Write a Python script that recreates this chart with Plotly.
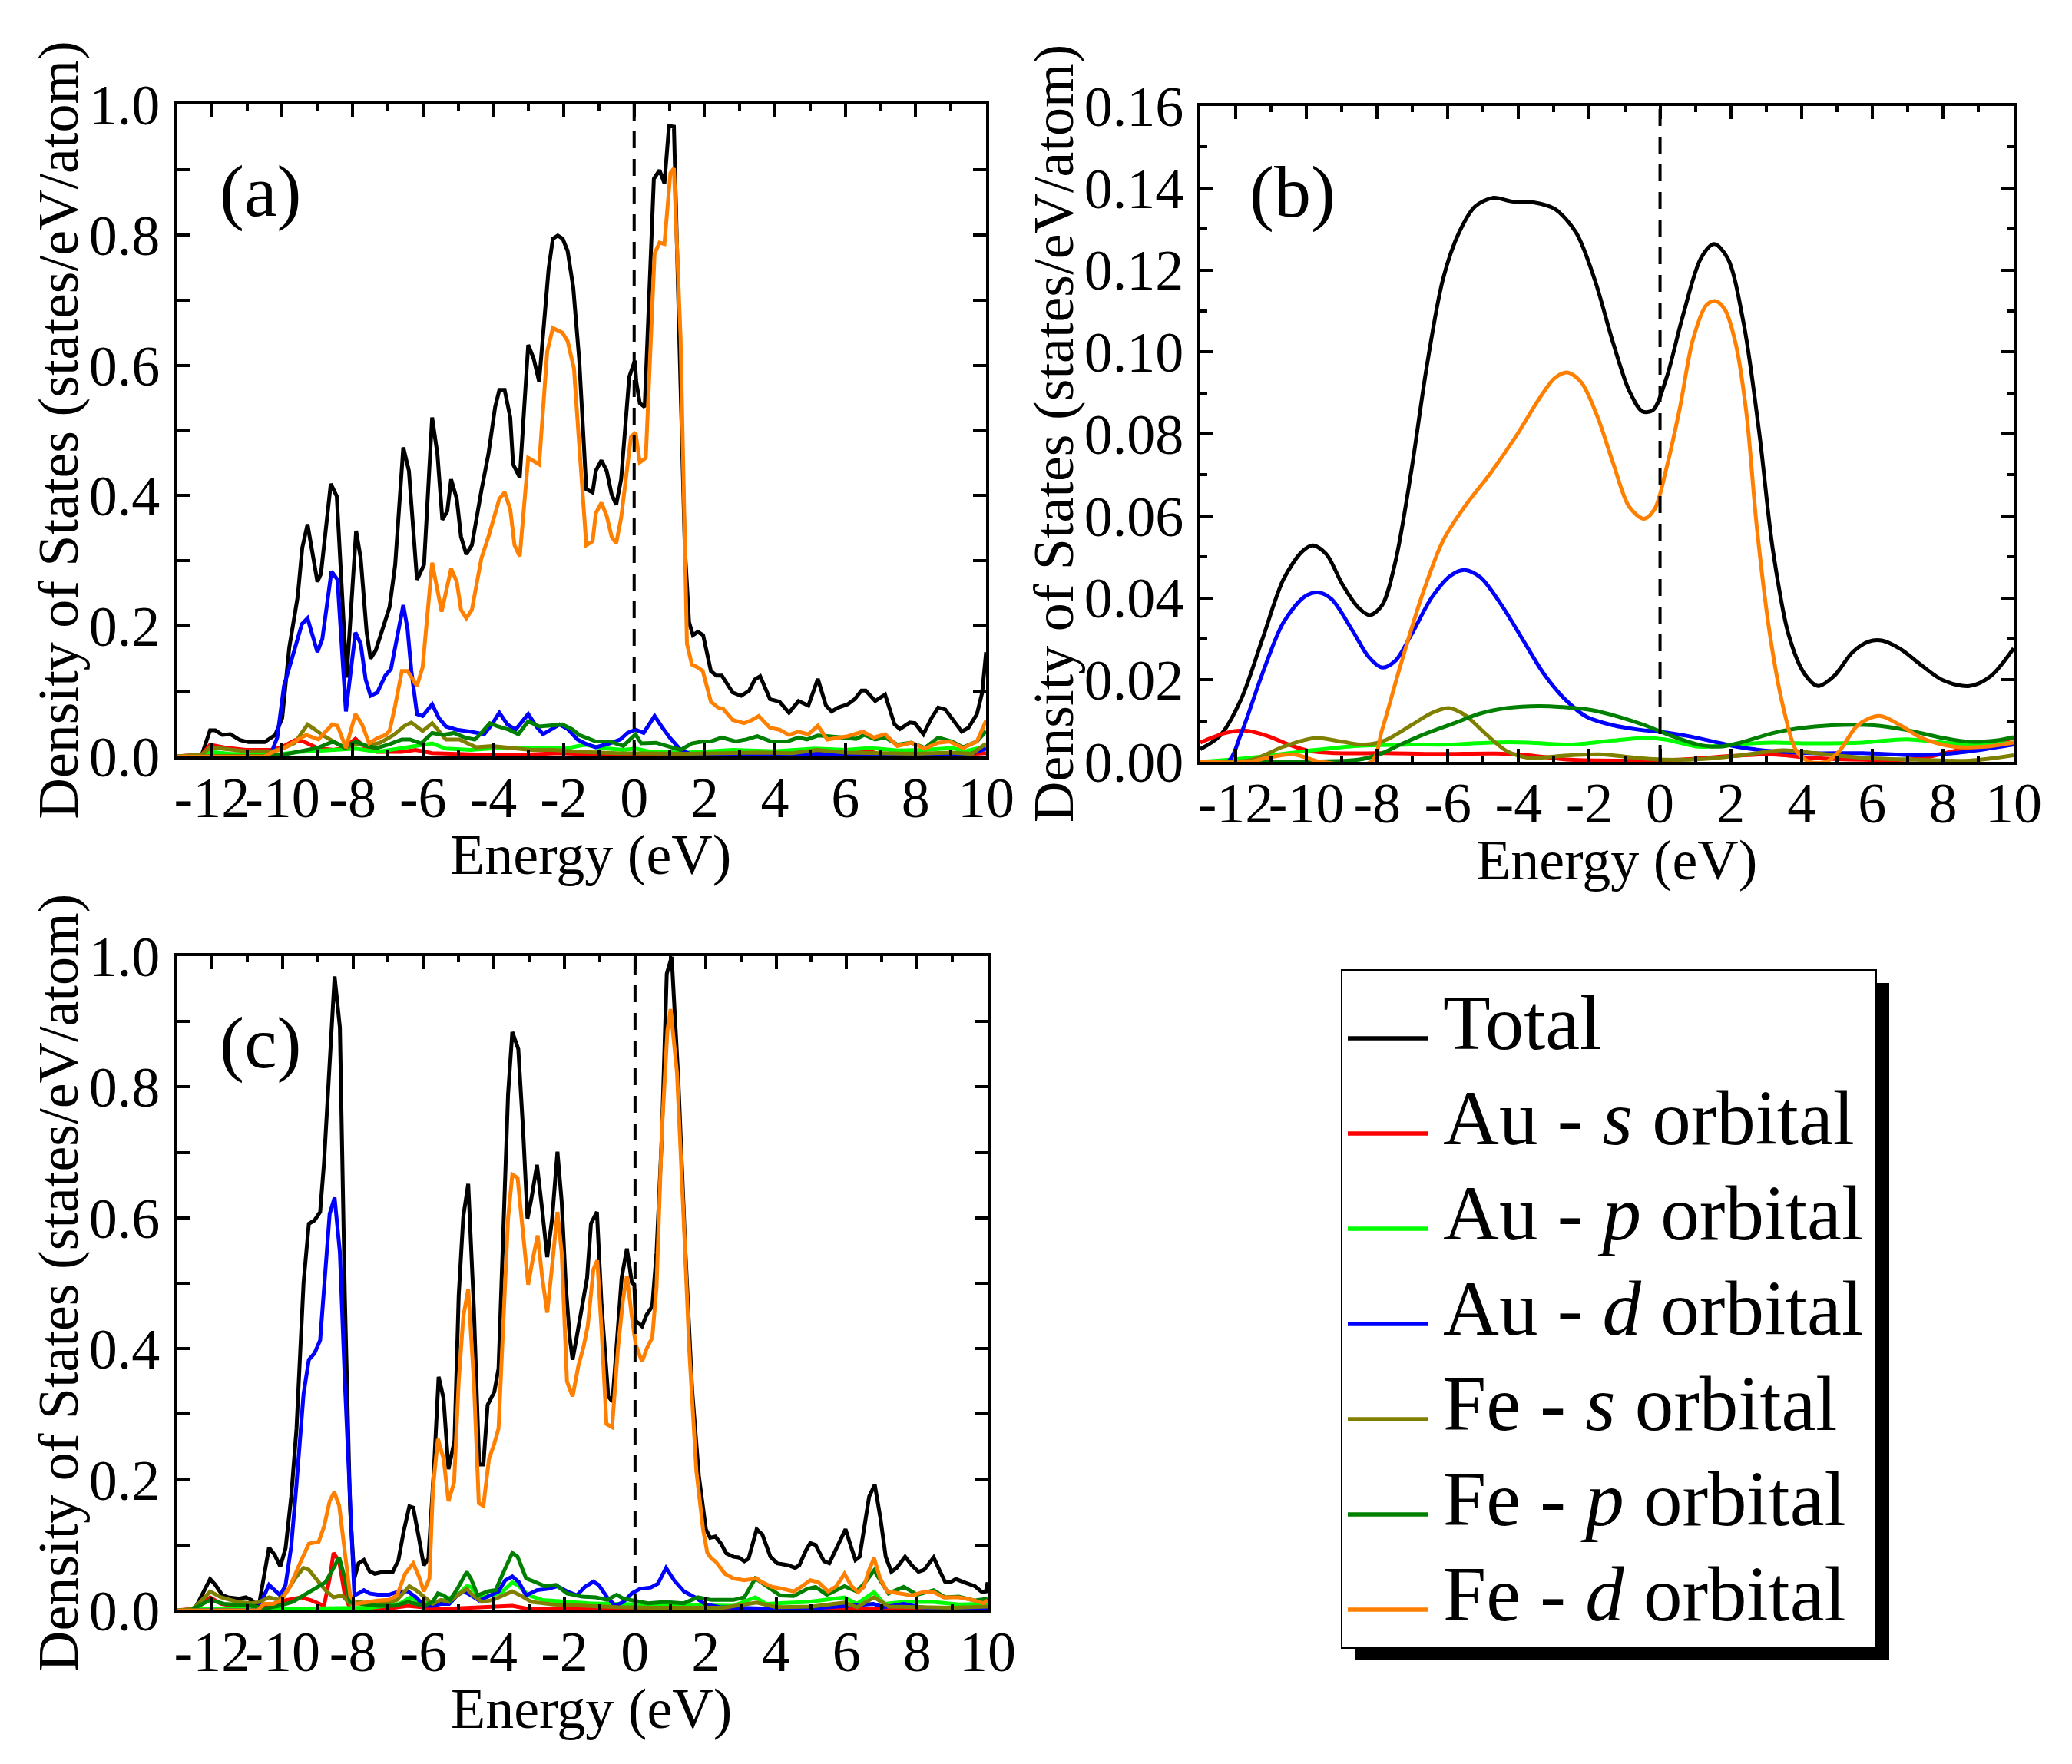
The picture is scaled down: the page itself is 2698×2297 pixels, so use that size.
import plotly.graph_objects as go

# ── data: (energy eV, DOS states/eV/atom) ──────────────────────────────────

# (a)
A_TOTAL = [(-13.0, 0), (-12.3, 0), (-12.05, 0.04), (-11.9, 0.04), (-11.7, 0.033), (-11.47, 0.034),
           (-11.2, 0.025), (-10.96, 0.022), (-10.5, 0.022), (-10.38, 0.026), (-10.2, 0.033), (-10.0, 0.059),
           (-9.8, 0.167), (-9.56, 0.245), (-9.43, 0.32), (-9.28, 0.356), (-9.0, 0.268), (-8.9, 0.28),
           (-8.62, 0.418), (-8.45, 0.399), (-8.17, 0.121), (-7.9, 0.346), (-7.77, 0.304), (-7.6, 0.19),
           (-7.49, 0.15), (-7.34, 0.163), (-7.14, 0.196), (-6.95, 0.229), (-6.79, 0.294), (-6.56, 0.474),
           (-6.4, 0.438), (-6.17, 0.271), (-5.97, 0.294), (-5.74, 0.52), (-5.59, 0.464), (-5.45, 0.363),
           (-5.31, 0.376), (-5.2, 0.425), (-5.04, 0.395), (-4.92, 0.337), (-4.77, 0.31), (-4.61, 0.324),
           (-4.34, 0.408), (-4.14, 0.464), (-3.95, 0.536), (-3.83, 0.562), (-3.68, 0.562), (-3.52, 0.52),
           (-3.44, 0.448), (-3.25, 0.428), (-3.01, 0.631), (-2.86, 0.611), (-2.7, 0.575), (-2.59, 0.641),
           (-2.43, 0.748), (-2.31, 0.794), (-2.17, 0.799), (-2.03, 0.794), (-1.89, 0.775), (-1.73, 0.719),
           (-1.56, 0.608), (-1.36, 0.41), (-1.18, 0.405), (-1.09, 0.438), (-0.93, 0.454), (-0.78, 0.438),
           (-0.64, 0.402), (-0.51, 0.386), (-0.37, 0.425), (-0.14, 0.582), (0.02, 0.607), (0.06, 0.575),
           (0.16, 0.542), (0.3, 0.536), (0.56, 0.886), (0.72, 0.899), (0.86, 0.879), (0.99, 0.967),
           (1.13, 0.966), (1.29, 0.627), (1.44, 0.32), (1.56, 0.206), (1.67, 0.186), (1.81, 0.191),
           (1.96, 0.186), (2.18, 0.131), (2.34, 0.124), (2.49, 0.124), (2.65, 0.111), (2.8, 0.098),
           (3.04, 0.093), (3.27, 0.101), (3.43, 0.118), (3.58, 0.123), (3.86, 0.088), (4.13, 0.084),
           (4.4, 0.067), (4.67, 0.085), (4.95, 0.078), (5.22, 0.119), (5.45, 0.078), (5.61, 0.069),
           (5.8, 0.075), (6.07, 0.08), (6.27, 0.088), (6.46, 0.101), (6.58, 0.101), (6.85, 0.085),
           (7.13, 0.095), (7.4, 0.049), (7.55, 0.042), (7.83, 0.052), (7.98, 0.051), (8.22, 0.034),
           (8.45, 0.059), (8.64, 0.075), (8.84, 0.072), (9.03, 0.058), (9.31, 0.038), (9.5, 0.044),
           (9.74, 0.065), (9.89, 0.098), (10.0, 0.16)]
A_AU_S = [(-13.0, 0), (-12.28, 0.003), (-12.05, 0.018), (-11.66, 0.014), (-11.04, 0.01), (-10.26, 0.01),
          (-9.95, 0.016), (-9.64, 0.025), (-9.4, 0.023), (-9.0, 0.013), (-8.55, 0.01), (-8.23, 0.013),
          (-7.92, 0.027), (-7.69, 0.016), (-7.3, 0.007), (-6.6, 0.007), (-6.21, 0.01), (-5.74, 0.005),
          (-4.5, 0.003), (-3.0, 0.003), (-2.16, 0.005), (-1.0, 0.003), (1.0, 0.002), (3.0, 0.003),
          (5.0, 0.003), (6.58, 0.01), (7.0, 0.003), (9.0, 0.002), (10.0, 0.005)]
A_AU_P = [(-13.0, 0), (-12.28, 0.001), (-12.05, 0.007), (-11.5, 0.004), (-10.3, 0.002), (-9.48, 0.007),
          (-8.55, 0.01), (-7.92, 0.012), (-7.3, 0.007), (-6.52, 0.013), (-5.74, 0.02), (-5.35, 0.012),
          (-4.65, 0.01), (-3.87, 0.013), (-3.01, 0.013), (-2.31, 0.012), (-1.87, 0.013), (-1.4, 0.018),
          (-0.93, 0.013), (-0.31, 0.01), (0.04, 0.012), (0.47, 0.007), (1.5, 0.006), (2.8, 0.01),
          (4.0, 0.008), (5.14, 0.012), (6.0, 0.01), (6.7, 0.013), (7.5, 0.009), (8.26, 0.01),
          (9.03, 0.013), (9.42, 0.008), (10.0, 0.016)]
A_AU_D = [(-13.0, 0), (-10.45, 0), (-10.3, 0.007), (-10.14, 0.029), (-9.95, 0.108), (-9.79, 0.137),
          (-9.6, 0.176), (-9.44, 0.203), (-9.28, 0.212), (-9.0, 0.16), (-8.86, 0.18), (-8.6, 0.284),
          (-8.43, 0.271), (-8.19, 0.069), (-7.92, 0.19), (-7.77, 0.173), (-7.63, 0.118), (-7.49, 0.093),
          (-7.3, 0.098), (-7.07, 0.124), (-6.91, 0.134), (-6.71, 0.19), (-6.56, 0.232), (-6.44, 0.196),
          (-6.33, 0.131), (-6.17, 0.065), (-6.01, 0.062), (-5.74, 0.08), (-5.55, 0.059), (-5.35, 0.046),
          (-5.04, 0.041), (-4.65, 0.038), (-4.26, 0.034), (-4.07, 0.047), (-3.83, 0.067), (-3.6, 0.049),
          (-3.37, 0.041), (-3.01, 0.065), (-2.78, 0.046), (-2.59, 0.034), (-2.35, 0.042), (-2.12, 0.049),
          (-1.89, 0.042), (-1.61, 0.026), (-1.4, 0.02), (-1.09, 0.014), (-0.7, 0.02), (-0.39, 0.026),
          (-0.19, 0.036), (0.04, 0.041), (0.27, 0.036), (0.58, 0.062), (0.78, 0.046), (1.01, 0.029),
          (1.32, 0.01), (1.64, 0.003), (3.0, 0.002), (5.0, 0.004), (6.5, 0.003), (8.0, 0.002),
          (9.5, 0.003), (10.0, 0.012)]
A_FE_S = [(-13.0, 0), (-12.28, 0.003), (-12.05, 0.014), (-11.66, 0.012), (-11.04, 0.008), (-10.26, 0.008),
          (-9.95, 0.013), (-9.64, 0.021), (-9.48, 0.033), (-9.28, 0.049), (-9.09, 0.042), (-8.86, 0.033),
          (-8.55, 0.023), (-8.19, 0.013), (-7.92, 0.02), (-7.6, 0.016), (-7.22, 0.021), (-6.83, 0.033),
          (-6.52, 0.047), (-6.33, 0.052), (-6.01, 0.039), (-5.74, 0.051), (-5.55, 0.039), (-5.35, 0.026),
          (-4.96, 0.026), (-4.49, 0.014), (-4.03, 0.016), (-3.48, 0.013), (-2.94, 0.01), (-2.31, 0.01),
          (-1.54, 0.007), (-0.5, 0.005), (0.5, 0.004), (1.5, 0.004), (2.5, 0.005), (3.5, 0.006),
          (4.5, 0.005), (5.2, 0.01), (6.0, 0.006), (7.0, 0.005), (8.0, 0.004), (9.0, 0.006),
          (9.6, 0.004), (10.0, 0.02)]
A_FE_P = [(-13.0, 0), (-10.5, 0.001), (-9.95, 0.003), (-9.48, 0.008), (-9.0, 0.013), (-8.55, 0.023),
          (-8.23, 0.013), (-7.92, 0.023), (-7.6, 0.016), (-7.3, 0.013), (-6.99, 0.018), (-6.6, 0.026),
          (-6.37, 0.026), (-6.05, 0.02), (-5.74, 0.036), (-5.43, 0.033), (-5.12, 0.036), (-4.81, 0.029),
          (-4.53, 0.026), (-4.34, 0.036), (-4.1, 0.051), (-3.87, 0.046), (-3.56, 0.041), (-3.29, 0.034),
          (-3.01, 0.054), (-2.7, 0.046), (-2.31, 0.047), (-2.04, 0.049), (-1.77, 0.042), (-1.56, 0.033),
          (-1.09, 0.023), (-0.7, 0.023), (-0.31, 0.016), (0.04, 0.034), (0.2, 0.02), (0.62, 0.021),
          (0.93, 0.016), (1.32, 0.01), (1.64, 0.02), (1.95, 0.023), (2.18, 0.023), (2.49, 0.029),
          (2.88, 0.023), (3.19, 0.026), (3.5, 0.031), (3.89, 0.023), (4.36, 0.023), (4.67, 0.029),
          (4.91, 0.026), (5.22, 0.032), (5.53, 0.031), (5.92, 0.029), (6.31, 0.027), (6.54, 0.033),
          (6.85, 0.026), (7.13, 0.029), (7.48, 0.018), (7.87, 0.021), (8.26, 0.013), (8.64, 0.029),
          (9.03, 0.023), (9.35, 0.014), (9.74, 0.023), (10.0, 0.039)]
A_FE_D = [(-13.0, 0), (-10.5, 0), (-10.26, 0.007), (-9.95, 0.013), (-9.64, 0.023), (-9.32, 0.033),
          (-8.97, 0.026), (-8.58, 0.049), (-8.43, 0.047), (-8.19, 0.013), (-7.92, 0.065), (-7.73, 0.049),
          (-7.53, 0.02), (-7.3, 0.028), (-7.07, 0.033), (-6.95, 0.039), (-6.79, 0.078), (-6.6, 0.131),
          (-6.44, 0.131), (-6.17, 0.108), (-6.01, 0.137), (-5.74, 0.297), (-5.47, 0.222), (-5.2, 0.288),
          (-5.04, 0.268), (-4.92, 0.225), (-4.77, 0.212), (-4.61, 0.225), (-4.34, 0.304), (-4.14, 0.337),
          (-3.83, 0.395), (-3.68, 0.405), (-3.52, 0.379), (-3.4, 0.324), (-3.25, 0.307), (-3.01, 0.458),
          (-2.7, 0.448), (-2.47, 0.621), (-2.31, 0.657), (-2.04, 0.65), (-1.89, 0.637), (-1.71, 0.595),
          (-1.56, 0.477), (-1.36, 0.324), (-1.18, 0.33), (-1.09, 0.373), (-0.93, 0.389), (-0.78, 0.369),
          (-0.64, 0.337), (-0.51, 0.327), (-0.37, 0.366), (-0.09, 0.49), (0.04, 0.497), (0.16, 0.451),
          (0.33, 0.458), (0.58, 0.771), (0.72, 0.788), (0.86, 0.786), (1.03, 0.895), (1.13, 0.902),
          (1.32, 0.641), (1.5, 0.173), (1.64, 0.141), (1.79, 0.137), (1.95, 0.131), (2.18, 0.084),
          (2.38, 0.075), (2.53, 0.073), (2.8, 0.056), (3.12, 0.051), (3.35, 0.056), (3.54, 0.062),
          (3.86, 0.044), (4.13, 0.041), (4.4, 0.033), (4.67, 0.038), (4.95, 0.034), (5.22, 0.047),
          (5.49, 0.026), (5.76, 0.029), (6.07, 0.031), (6.5, 0.038), (6.81, 0.029), (7.13, 0.034),
          (7.48, 0.016), (7.87, 0.021), (8.26, 0.012), (8.64, 0.021), (8.96, 0.023), (9.35, 0.013),
          (9.74, 0.023), (10.0, 0.055)]

# (b) – smooth curves
B_TOTAL = [(-13.0, 0.0031), (-12.45, 0.0063), (-11.85, 0.0152), (-11.25, 0.0298), (-10.65, 0.0445),
           (-10.12, 0.0513), (-9.82, 0.0528), (-9.44, 0.0507), (-8.99, 0.0434), (-8.54, 0.0377),
           (-8.21, 0.0358), (-7.86, 0.0382), (-7.49, 0.0486), (-7.04, 0.0706), (-6.59, 0.0968),
           (-6.14, 0.1177), (-5.68, 0.1292), (-5.23, 0.1355), (-4.71, 0.1376), (-4.18, 0.1367),
           (-3.58, 0.1365), (-2.98, 0.1349), (-2.38, 0.1292), (-1.85, 0.1177), (-1.32, 0.102),
           (-0.87, 0.0905), (-0.5, 0.0855), (-0.2, 0.0858), (0.18, 0.0936), (0.63, 0.1083),
           (1.16, 0.1229), (1.53, 0.1263), (1.91, 0.1229), (2.36, 0.1072), (2.81, 0.08), (3.19, 0.0518),
           (3.64, 0.0309), (4.09, 0.0214), (4.47, 0.0185), (4.92, 0.0209), (5.44, 0.0267),
           (5.89, 0.0293), (6.27, 0.0296), (6.8, 0.0275), (7.4, 0.0235), (8.0, 0.0199), (8.75, 0.0185),
           (9.35, 0.0209), (10.0, 0.0277)]
B_AU_S = [(-13.0, 0.0047), (-12.3, 0.007), (-11.7, 0.0076), (-11.1, 0.0063), (-10.5, 0.0042),
          (-9.9, 0.0026), (-9.14, 0.0021), (-7.79, 0.0021), (-6.29, 0.0019), (-4.63, 0.002),
          (-3.73, 0.0016), (-2.53, 0.0005), (-1.02, 0.0003), (0.48, 0.0005), (1.98, 0.0014),
          (3.19, 0.0018), (4.24, 0.001), (5.74, 0.0005), (7.25, 0.0007), (8.3, 0.0026), (9.2, 0.0042),
          (10.0, 0.0058)]
B_AU_P = [(-13.0, 0), (-11.55, 0.001), (-10.05, 0.0026), (-8.54, 0.0039), (-7.04, 0.0042),
          (-5.98, 0.0042), (-4.78, 0.0047), (-3.73, 0.0047), (-2.53, 0.0042), (-1.32, 0.0052),
          (-0.42, 0.0058), (0.18, 0.0054), (1.08, 0.0037), (1.98, 0.0042), (3.19, 0.0047),
          (4.24, 0.0045), (5.74, 0.0047), (6.95, 0.0055), (8.0, 0.0047), (8.75, 0.0042), (10.0, 0.0047)]
B_AU_D = [(-13.0, 0), (-12.23, 0), (-11.85, 0.0068), (-11.25, 0.0214), (-10.65, 0.034), (-10.05, 0.0403),
          (-9.67, 0.0413), (-9.29, 0.0397), (-8.69, 0.0319), (-8.24, 0.0256), (-7.86, 0.023),
          (-7.49, 0.0246), (-7.04, 0.0309), (-6.44, 0.0403), (-5.91, 0.0455), (-5.53, 0.0468),
          (-5.08, 0.045), (-4.48, 0.0382), (-3.88, 0.0298), (-3.28, 0.0214), (-2.68, 0.0152),
          (-2.08, 0.011), (-1.32, 0.0089), (-0.57, 0.0078), (0.0, 0.0073), (0.78, 0.0063),
          (1.53, 0.0049), (2.29, 0.0035), (3.19, 0.0026), (4.24, 0.0021), (5.74, 0.0021),
          (7.25, 0.0016), (8.3, 0.0021), (9.2, 0.0031), (10.0, 0.0042)]
B_FE_S = [(-13.0, 0), (-11.55, 0.0005), (-10.65, 0.0037), (-9.74, 0.0058), (-8.99, 0.0049),
          (-8.39, 0.0042), (-7.79, 0.0052), (-7.04, 0.0089), (-6.44, 0.012), (-5.98, 0.0131),
          (-5.53, 0.0115), (-4.93, 0.0068), (-4.33, 0.0026), (-3.73, 0.001), (-2.53, 0.0016),
          (-1.62, 0.0018), (-0.72, 0.001), (0.18, 0.0005), (1.23, 0.0007), (2.29, 0.0016),
          (3.49, 0.0028), (4.39, 0.0021), (5.74, 0.001), (7.25, 0.0005), (8.75, 0.0003), (10.0, 0.0016)]
B_FE_P = [(-13.0, 0), (-10.8, 0), (-8.54, 0.0005), (-7.94, 0.0018), (-7.34, 0.0042), (-6.59, 0.007),
          (-5.83, 0.0094), (-5.08, 0.0118), (-4.33, 0.0131), (-3.43, 0.0136), (-2.68, 0.0133),
          (-1.92, 0.0126), (-1.17, 0.011), (-0.42, 0.0089), (0.33, 0.0063), (1.08, 0.0042),
          (1.68, 0.0037), (2.29, 0.0047), (3.19, 0.007), (3.94, 0.0082), (4.84, 0.0089),
          (6.05, 0.0089), (6.95, 0.0078), (8.0, 0.0058), (8.75, 0.0049), (9.5, 0.0052), (10.0, 0.006)]
B_FE_D = [(-13.0, 0), (-11.6, 0), (-11.1, 0.001), (-10.35, 0.0018), (-9.6, 0.0), (-8.17, 0.0),
          (-7.86, 0.0078), (-7.34, 0.0235), (-6.74, 0.0403), (-6.14, 0.0539), (-5.53, 0.0622),
          (-4.78, 0.0706), (-4.03, 0.08), (-3.43, 0.0884), (-2.98, 0.0936), (-2.63, 0.095),
          (-2.23, 0.0926), (-1.77, 0.0842), (-1.32, 0.0727), (-0.87, 0.0622), (-0.45, 0.0593),
          (-0.15, 0.0617), (0.18, 0.0716), (0.56, 0.0863), (0.93, 0.103), (1.31, 0.1114),
          (1.56, 0.1124), (1.83, 0.1104), (2.14, 0.102), (2.44, 0.0853), (2.74, 0.057), (3.11, 0.0309),
          (3.49, 0.0131), (3.86, 0.0026), (4.24, 0.0), (4.69, 0.0), (5.07, 0.0026), (5.59, 0.0089),
          (6.2, 0.0112), (6.8, 0.0089), (7.4, 0.0058), (8.3, 0.0037), (9.2, 0.0037), (10.0, 0.0047)]

# (c)
C_TOTAL = [(-13.0, 0), (-12.6, 0), (-12.44, 0.007), (-12.24, 0.029), (-12.05, 0.048), (-11.9, 0.039),
           (-11.7, 0.023), (-11.54, 0.02), (-11.23, 0.018), (-11.04, 0.02), (-10.88, 0.016),
           (-10.76, 0.01), (-10.65, 0.013), (-10.38, 0.096), (-10.22, 0.085), (-10.06, 0.067),
           (-9.91, 0.095), (-9.75, 0.174), (-9.6, 0.278), (-9.4, 0.501), (-9.25, 0.591), (-9.09, 0.596),
           (-8.93, 0.609), (-8.82, 0.684), (-8.66, 0.842), (-8.52, 0.969), (-8.37, 0.891), (-8.23, 0.481),
           (-8.08, 0.154), (-7.96, 0.049), (-7.84, 0.072), (-7.69, 0.077), (-7.53, 0.06), (-7.38, 0.056),
           (-7.14, 0.059), (-6.87, 0.059), (-6.71, 0.077), (-6.56, 0.121), (-6.4, 0.159), (-6.29, 0.157),
           (-6.13, 0.111), (-5.99, 0.069), (-5.86, 0.079), (-5.7, 0.219), (-5.57, 0.357), (-5.43, 0.324),
           (-5.29, 0.216), (-5.12, 0.259), (-5.0, 0.481), (-4.87, 0.602), (-4.73, 0.652), (-4.57, 0.462),
           (-4.42, 0.223), (-4.3, 0.223), (-4.18, 0.314), (-3.99, 0.334), (-3.87, 0.37), (-3.75, 0.547),
           (-3.6, 0.789), (-3.48, 0.884), (-3.31, 0.858), (-3.17, 0.73), (-3.05, 0.599), (-2.94, 0.629),
           (-2.78, 0.681), (-2.64, 0.616), (-2.49, 0.54), (-2.35, 0.599), (-2.2, 0.701), (-2.08, 0.625),
           (-1.96, 0.494), (-1.85, 0.416), (-1.77, 0.383), (-1.65, 0.419), (-1.5, 0.462), (-1.36, 0.508),
           (-1.25, 0.591), (-1.08, 0.609), (-0.95, 0.468), (-0.76, 0.327), (-0.64, 0.319), (-0.52, 0.409),
           (-0.38, 0.508), (-0.23, 0.553), (-0.09, 0.501), (-0.02, 0.498), (0.02, 0.442), (0.1, 0.439),
           (0.2, 0.434), (0.33, 0.452), (0.49, 0.465), (0.61, 0.547), (0.76, 0.724), (0.9, 0.973),
           (1.04, 0.999), (1.23, 0.809), (1.43, 0.547), (1.62, 0.337), (1.81, 0.206), (2.01, 0.124),
           (2.13, 0.111), (2.28, 0.113), (2.44, 0.102), (2.59, 0.087), (2.79, 0.082), (2.94, 0.081),
           (3.1, 0.075), (3.22, 0.079), (3.45, 0.124), (3.61, 0.116), (3.84, 0.082), (4.03, 0.072),
           (4.35, 0.069), (4.54, 0.065), (4.66, 0.069), (4.85, 0.092), (4.97, 0.103), (5.12, 0.1),
           (5.36, 0.075), (5.51, 0.072), (5.71, 0.094), (5.97, 0.124), (6.14, 0.095), (6.25, 0.077),
           (6.37, 0.082), (6.53, 0.138), (6.64, 0.174), (6.8, 0.192), (6.96, 0.141), (7.11, 0.082),
           (7.27, 0.059), (7.42, 0.065), (7.66, 0.082), (7.85, 0.069), (8.04, 0.059), (8.2, 0.062),
           (8.47, 0.081), (8.63, 0.062), (8.79, 0.044), (8.94, 0.043), (9.1, 0.048), (9.33, 0.043),
           (9.64, 0.037), (9.84, 0.028), (9.95, 0.029), (10.0, 0.043)]
C_AU_S = [(-13.0, 0), (-12.44, 0.003), (-12.05, 0.02), (-11.74, 0.01), (-11.2, 0.005), (-10.65, 0.005),
          (-10.26, 0.01), (-9.87, 0.016), (-9.48, 0.02), (-9.17, 0.015), (-8.82, 0.007), (-8.66, 0.049),
          (-8.55, 0.088), (-8.39, 0.075), (-8.23, 0.023), (-8.08, 0.003), (-6.99, 0.003), (-6.44, 0.007),
          (-5.5, 0.002), (-3.48, 0.007), (-3.0, 0.002), (0.0, 0.002), (3.0, 0.002), (5.0, 0.002),
          (7.0, 0.002), (10.0, 0.002)]
C_AU_P = [(-13.0, 0), (-12.05, 0.003), (-10.5, 0.002), (-8.5, 0.003), (-7.5, 0.004), (-6.68, 0.01),
          (-6.37, 0.02), (-6.13, 0.013), (-5.74, 0.01), (-5.43, 0.016), (-5.04, 0.023), (-4.77, 0.037),
          (-4.65, 0.036), (-4.42, 0.02), (-4.03, 0.023), (-3.75, 0.029), (-3.48, 0.043), (-3.29, 0.037),
          (-3.02, 0.023), (-2.63, 0.016), (-1.93, 0.013), (-1.3, 0.011), (-0.72, 0.01), (0.45, 0.009),
          (1.62, 0.009), (2.79, 0.007), (3.41, 0.02), (3.72, 0.01), (4.89, 0.013), (5.94, 0.02),
          (6.29, 0.01), (6.78, 0.028), (7.07, 0.01), (7.62, 0.013), (8.47, 0.013), (9.18, 0.009),
          (10.0, 0.01)]
C_AU_D = [(-13.0, 0), (-10.75, 0), (-10.65, 0.007), (-10.38, 0.039), (-10.22, 0.031), (-10.06, 0.023),
          (-9.91, 0.039), (-9.75, 0.098), (-9.6, 0.193), (-9.4, 0.331), (-9.25, 0.383), (-9.09, 0.393),
          (-8.93, 0.413), (-8.82, 0.488), (-8.66, 0.606), (-8.52, 0.631), (-8.37, 0.547), (-8.23, 0.35),
          (-8.08, 0.154), (-7.96, 0.023), (-7.84, 0.026), (-7.69, 0.031), (-7.53, 0.026), (-7.3, 0.024),
          (-6.99, 0.024), (-6.68, 0.029), (-6.44, 0.029), (-6.21, 0.02), (-5.98, 0.007), (-5.74, 0.007),
          (-5.51, 0.01), (-5.27, 0.01), (-5.04, 0.023), (-4.85, 0.029), (-4.65, 0.023), (-4.42, 0.015),
          (-4.14, 0.022), (-3.87, 0.029), (-3.68, 0.046), (-3.48, 0.052), (-3.29, 0.043), (-3.09, 0.023),
          (-2.78, 0.031), (-2.47, 0.033), (-2.2, 0.037), (-1.93, 0.029), (-1.65, 0.023), (-1.42, 0.036),
          (-1.18, 0.044), (-1.03, 0.039), (-0.79, 0.02), (-0.56, 0.007), (-0.33, 0.013), (-0.09, 0.026),
          (0.14, 0.033), (0.45, 0.035), (0.65, 0.041), (0.88, 0.065), (1.11, 0.046), (1.39, 0.029),
          (1.7, 0.02), (2.01, 0.009), (2.4, 0.005), (3.57, 0.003), (5.0, 0.003), (5.9, 0.007),
          (6.29, 0.009), (6.76, 0.01), (7.07, 0.005), (7.62, 0.01), (8.08, 0.005), (8.47, 0.003),
          (10.0, 0.003)]
C_FE_S = [(-13.0, 0), (-12.6, 0), (-12.44, 0.007), (-12.05, 0.029), (-11.74, 0.02), (-11.27, 0.013),
          (-10.88, 0.011), (-10.65, 0.013), (-10.38, 0.02), (-10.1, 0.016), (-9.87, 0.029), (-9.64, 0.049),
          (-9.4, 0.065), (-9.25, 0.062), (-9.01, 0.046), (-8.78, 0.031), (-8.55, 0.02), (-8.31, 0.023),
          (-8.08, 0.01), (-7.84, 0.013), (-7.61, 0.011), (-7.14, 0.01), (-6.75, 0.016), (-6.52, 0.029),
          (-6.4, 0.037), (-6.21, 0.031), (-5.98, 0.02), (-5.74, 0.01), (-5.51, 0.016), (-5.27, 0.013),
          (-5.04, 0.023), (-4.77, 0.033), (-4.6, 0.023), (-4.34, 0.013), (-4.03, 0.016), (-3.75, 0.023),
          (-3.48, 0.029), (-3.25, 0.023), (-2.94, 0.013), (-2.31, 0.009), (-1.54, 0.007), (-0.5, 0.005),
          (0.5, 0.004), (1.5, 0.004), (2.5, 0.004), (3.45, 0.012), (4.0, 0.005), (5.0, 0.006),
          (5.94, 0.012), (6.3, 0.005), (6.78, 0.02), (7.2, 0.006), (8.0, 0.005), (9.0, 0.004),
          (10.0, 0.006)]
C_FE_P = [(-13.0, 0), (-12.6, 0), (-12.44, 0.005), (-12.05, 0.016), (-11.66, 0.01), (-10.88, 0.007),
          (-10.49, 0.003), (-10.1, 0.007), (-9.71, 0.013), (-9.32, 0.026), (-9.01, 0.036), (-8.78, 0.043),
          (-8.58, 0.062), (-8.39, 0.081), (-8.23, 0.049), (-8.08, 0.013), (-7.77, 0.01), (-7.3, 0.007),
          (-6.83, 0.007), (-6.44, 0.013), (-6.21, 0.01), (-5.98, 0.007), (-5.74, 0.013), (-5.59, 0.026),
          (-5.43, 0.023), (-5.24, 0.016), (-5.04, 0.033), (-4.77, 0.059), (-4.65, 0.048), (-4.46, 0.023),
          (-4.18, 0.029), (-3.95, 0.031), (-3.75, 0.056), (-3.48, 0.088), (-3.33, 0.082), (-3.09, 0.049),
          (-2.86, 0.044), (-2.55, 0.037), (-2.24, 0.039), (-1.93, 0.026), (-1.5, 0.021), (-1.11, 0.02),
          (-0.79, 0.016), (-0.52, 0.024), (-0.33, 0.018), (-0.02, 0.015), (0.37, 0.011), (0.84, 0.013),
          (1.39, 0.011), (1.78, 0.02), (2.17, 0.016), (2.79, 0.016), (3.1, 0.02), (3.41, 0.049),
          (3.72, 0.037), (4.11, 0.023), (4.5, 0.022), (4.89, 0.033), (5.12, 0.036), (5.44, 0.024),
          (5.94, 0.037), (6.29, 0.029), (6.53, 0.043), (6.78, 0.061), (6.99, 0.043), (7.19, 0.026),
          (7.62, 0.036), (8.01, 0.024), (8.47, 0.031), (8.79, 0.02), (9.18, 0.021), (9.64, 0.015),
          (10.0, 0.018)]
C_FE_D = [(-13.0, 0), (-10.7, 0), (-10.53, 0.01), (-10.26, 0.01), (-10.02, 0.016), (-9.79, 0.036),
          (-9.56, 0.065), (-9.25, 0.102), (-8.97, 0.105), (-8.82, 0.128), (-8.66, 0.167), (-8.53, 0.181),
          (-8.39, 0.16), (-8.23, 0.088), (-8.08, 0.023), (-7.92, 0.01), (-7.61, 0.013), (-7.3, 0.015),
          (-6.99, 0.016), (-6.75, 0.023), (-6.52, 0.056), (-6.29, 0.072), (-6.13, 0.052), (-5.99, 0.029),
          (-5.83, 0.049), (-5.73, 0.187), (-5.59, 0.262), (-5.43, 0.232), (-5.29, 0.167), (-5.13, 0.196),
          (-5.0, 0.35), (-4.87, 0.449), (-4.73, 0.491), (-4.57, 0.35), (-4.43, 0.164), (-4.3, 0.16),
          (-4.14, 0.232), (-3.99, 0.255), (-3.87, 0.278), (-3.75, 0.416), (-3.6, 0.599), (-3.48, 0.666),
          (-3.33, 0.661), (-3.17, 0.573), (-3.03, 0.498), (-2.9, 0.537), (-2.76, 0.573), (-2.63, 0.508),
          (-2.49, 0.455), (-2.35, 0.527), (-2.2, 0.609), (-2.08, 0.547), (-1.93, 0.35), (-1.77, 0.327),
          (-1.61, 0.373), (-1.46, 0.403), (-1.34, 0.435), (-1.18, 0.521), (-1.07, 0.535), (-0.95, 0.429),
          (-0.81, 0.285), (-0.65, 0.28), (-0.48, 0.403), (-0.34, 0.475), (-0.23, 0.511), (-0.09, 0.449),
          (0.02, 0.406), (0.2, 0.38), (0.33, 0.4), (0.49, 0.417), (0.61, 0.494), (0.76, 0.73),
          (0.92, 0.887), (1.01, 0.919), (1.19, 0.822), (1.39, 0.586), (1.54, 0.396), (1.74, 0.213),
          (1.93, 0.124), (2.05, 0.088), (2.17, 0.079), (2.28, 0.075), (2.55, 0.056), (2.79, 0.049),
          (3.1, 0.046), (3.33, 0.048), (3.45, 0.049), (3.57, 0.044), (3.88, 0.036), (4.19, 0.033),
          (4.5, 0.029), (4.74, 0.037), (4.97, 0.046), (5.2, 0.043), (5.48, 0.029), (5.71, 0.037),
          (5.94, 0.056), (6.14, 0.037), (6.33, 0.028), (6.49, 0.036), (6.64, 0.062), (6.78, 0.08),
          (6.95, 0.049), (7.15, 0.029), (7.46, 0.026), (7.85, 0.023), (8.24, 0.029), (8.47, 0.028),
          (8.75, 0.02), (9.18, 0.02), (9.57, 0.016), (9.88, 0.011), (10.0, 0.015)]

SERIES_NAMES = ["Total", "Au - <i>s</i> orbital", "Au - <i>p</i> orbital", "Au - <i>d</i> orbital",
                "Fe - <i>s</i> orbital", "Fe - <i>p</i> orbital", "Fe - <i>d</i> orbital"]
SERIES_COLORS = ["#000000", "#ff0000", "#00ff00", "#0000ff", "#808000", "#008000", "#ff8000"]

PANELS = [
    ("(a)", [A_TOTAL, A_AU_S, A_AU_P, A_AU_D, A_FE_S, A_FE_P, A_FE_D]),
    ("(b)", [B_TOTAL, B_AU_S, B_AU_P, B_AU_D, B_FE_S, B_FE_P, B_FE_D]),
    ("(c)", [C_TOTAL, C_AU_S, C_AU_P, C_AU_D, C_FE_S, C_FE_P, C_FE_D]),
]
X_TICKS = [-12, -10, -8, -6, -4, -2, 0, 2, 4, 6, 8, 10]
X_MINOR = [-13, -11, -9, -7, -5, -3, -1, 1, 3, 5, 7, 9]
Y_TICKS_AC = [0.0, 0.2, 0.4, 0.6, 0.8, 1.0]
Y_MINOR_AC = [0.1, 0.3, 0.5, 0.7, 0.9]
Y_TICKS_B = [0.0, 0.02, 0.04, 0.06, 0.08, 0.10, 0.12, 0.14, 0.16]
Y_MINOR_B = [0.01, 0.03, 0.05, 0.07, 0.09, 0.11, 0.13, 0.15]

# ── layout geometry (pixels of the 2698 x 2297 canvas) ────────────────────
W, H = 2698, 2297
OFF = 8          # the page body adds an 8px margin; compensate for it
FONT = "Liberation Serif"


def px(x):
    return (x - OFF) / W


def py(y):
    return 1 - (y - OFF) / H


# plot boxes: left, right, top, bottom; y-title x position
BOXES = [(230, 1284, 136, 985), (1563, 2622, 138, 992), (230, 1286, 1245, 2097)]
YTITLE_X = [76, 1372, 76]

fig = go.Figure()

for i, (label, series) in enumerate(PANELS):
    sfx = "" if i == 0 else str(i + 1)
    for name, color, pts in zip(SERIES_NAMES, SERIES_COLORS, series):
        xs, ys = zip(*pts)
        fig.add_trace(go.Scatter(
            x=xs, y=ys, mode="lines", name=name, showlegend=False,
            line=dict(color=color, width=5,
                      shape="spline" if i == 1 else "linear", smoothing=0.9),
            xaxis="x" + sfx, yaxis="y" + sfx,
        ))

    l, r, t, b = BOXES[i]
    if i == 1:
        yt, ym, ymax, yfmt, mlen = Y_TICKS_B, Y_MINOR_B, 0.16, "{:.2f}", 9
    else:
        yt, ym, ymax, yfmt, mlen = Y_TICKS_AC, Y_MINOR_AC, 1.0, "{:.1f}", 17

    common = dict(showline=True, linewidth=4, linecolor="black", mirror="ticks",
                  ticks="inside", ticklen=17, tickwidth=4, tickcolor="black",
                  showgrid=False, zeroline=False, automargin=False,
                  tickfont=dict(family=FONT, size=74, color="black"))
    fig.layout["xaxis" + sfx] = dict(
        domain=[px(l), px(r)], anchor="y" + sfx, range=[-13, 10],
        tickmode="array", tickvals=X_TICKS, ticktext=[str(v) for v in X_TICKS],
        tickangle=0, ticklabelstandoff=-14,
        minor=dict(tickmode="array", tickvals=X_MINOR, ticks="inside",
                   ticklen=8, tickwidth=4, tickcolor="black"),
        **common)
    fig.layout["yaxis" + sfx] = dict(
        domain=[py(b), py(t)], anchor="x" + sfx, range=[0, ymax],
        tickmode="array", tickvals=yt, ticktext=[yfmt.format(v) for v in yt],
        ticklabelstandoff=3,
        minor=dict(tickmode="array", tickvals=ym, ticks="inside",
                   ticklen=mlen, tickwidth=4, tickcolor="black"),
        **common)

    # Fermi level
    fig.add_shape(type="line", xref="x" + sfx, yref="y" + sfx + " domain",
                  x0=0, x1=0, y0=0, y1=1,
                  line=dict(color="black", width=4, dash="22px,14px"))

    # panel label
    fig.add_annotation(text=label, xref="paper", yref="paper",
                       x=px(l + 54 + (8 if i == 1 else 0)), y=py(t + 112),
                       xanchor="left", yanchor="middle",
                       showarrow=False, font=dict(family=FONT, size=96, color="black"))
    # axis titles
    fig.add_annotation(text="Energy (eV)", xref="paper", yref="paper",
                       x=px((l + r) / 2 + 12), y=py(b + 128), xanchor="center", yanchor="middle",
                       showarrow=False, font=dict(family=FONT, size=74, color="black"))
    fig.add_annotation(text="Density of States (states/eV/atom)", xref="paper", yref="paper",
                       x=px(YTITLE_X[i]), y=py((t + b) / 2),
                       xanchor="center", yanchor="middle", textangle=-90,
                       showarrow=False, font=dict(family=FONT, size=74, color="black"))

# ── legend (drawn by hand: long line samples + drop shadow) ───────────────
LEG_L, LEG_R, LEG_T, LEG_B = 1747, 2443, 1263, 2146
fig.add_shape(type="rect", xref="paper", yref="paper",
              x0=px(LEG_L + 17), x1=px(LEG_R + 17), y0=py(LEG_T + 17), y1=py(LEG_B + 16),
              fillcolor="black", line=dict(width=0))
fig.add_shape(type="rect", xref="paper", yref="paper",
              x0=px(LEG_L), x1=px(LEG_R), y0=py(LEG_T), y1=py(LEG_B),
              fillcolor="white", line=dict(color="black", width=2))
for k, (name, color) in enumerate(zip(SERIES_NAMES, SERIES_COLORS)):
    yrow = 1352 + 124 * k
    fig.add_shape(type="line", xref="paper", yref="paper",
                  x0=px(1755), x1=px(1860), y0=py(yrow), y1=py(yrow),
                  line=dict(color=color, width=5.5))
    fig.add_annotation(text=name, xref="paper", yref="paper",
                       x=px(1877), y=py(yrow - 20), xanchor="left", yanchor="middle",
                       showarrow=False, font=dict(family=FONT, size=101, color="black"))

fig.update_layout(
    width=W, height=H,
    margin=dict(l=0, r=0, t=0, b=0),
    paper_bgcolor="white", plot_bgcolor="white",
    font=dict(family=FONT, color="black"),
    showlegend=False,
)

fig.write_html("out.html")
